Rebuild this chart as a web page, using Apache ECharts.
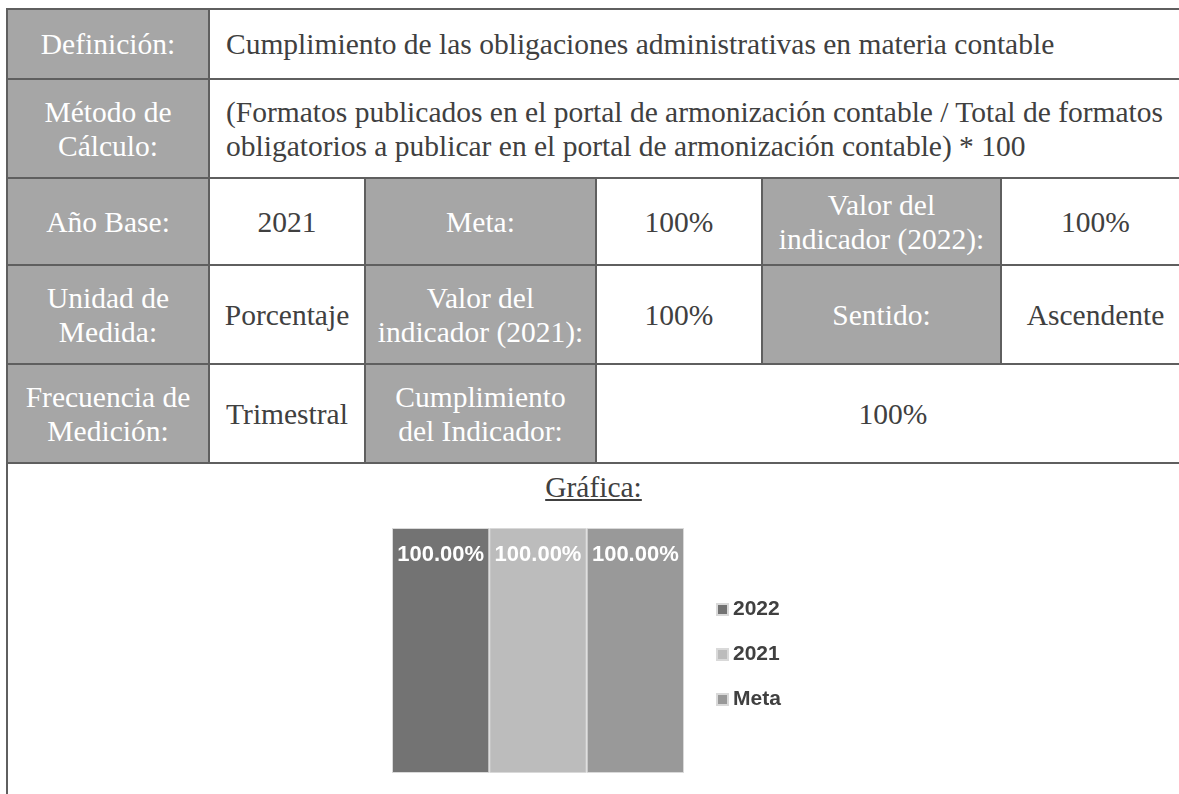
<!DOCTYPE html>
<html>
<head>
<meta charset="utf-8">
<script src="https://cdn.jsdelivr.net/npm/echarts@6/dist/echarts.min.js"></script>
<style>
  html, body { margin: 0; padding: 0; background: #ffffff; width: 1179px; height: 794px; overflow: hidden; }
  #wrap { position: relative; width: 1179px; height: 794px; }
  .cell { position: absolute; box-sizing: border-box; display: flex; align-items: center; justify-content: center;
          text-align: center; font-family: "Liberation Serif", serif; font-size: 29.5px; line-height: 34px; color: #404040;
          white-space: nowrap; }
  .hdr { background: #a6a6a6; color: #ffffff; }
  .left { justify-content: flex-start; text-align: left; padding-left: 17px; }
  .hl { position: absolute; background: #5f5f5f; }
  #title { position: absolute; left: 0; width: 1179px; top: 470px; line-height: 34px; text-align: center;
           font-family: "Liberation Serif", serif; font-size: 29.5px; color: #404040; }
  #title span { text-decoration: underline; margin-left: 8px; }
  #chart { position: absolute; left: 0; top: 0; width: 1179px; height: 794px; }
</style>
</head>
<body>
<div id="wrap"></div>
<script>
// ---- table content ----
const colX = [7, 209, 365, 596, 762, 1001, 1190];
const rowY = [9, 79, 178, 265, 364, 463];
const cellTexts = [
  // [row, colStart, colEnd, text, isHeader, leftAligned]
  [0, 0, 1, "Definición:", true, false],
  [0, 1, 6, "Cumplimiento de las obligaciones administrativas en materia contable", false, true],
  [1, 0, 1, "Método de<br>Cálculo:", true, false],
  [1, 1, 6, "(Formatos publicados en el portal de armonización contable / Total de formatos<br>obligatorios a publicar en el portal de armonización contable) * 100", false, true],
  [2, 0, 1, "Año Base:", true, false],
  [2, 1, 2, "2021", false, false],
  [2, 2, 3, "Meta:", true, false],
  [2, 3, 4, "100%", false, false],
  [2, 4, 5, "Valor del<br>indicador (2022):", true, false],
  [2, 5, 6, "100%", false, false],
  [3, 0, 1, "Unidad de<br>Medida:", true, false],
  [3, 1, 2, "Porcentaje", false, false],
  [3, 2, 3, "Valor del<br>indicador (2021):", true, false],
  [3, 3, 4, "100%", false, false],
  [3, 4, 5, "Sentido:", true, false],
  [3, 5, 6, "Ascendente", false, false],
  [4, 0, 1, "Frecuencia de<br>Medición:", true, false],
  [4, 1, 2, "Trimestral", false, false],
  [4, 2, 3, "Cumplimiento<br>del Indicador:", true, false],
  [4, 3, 6, "100%", false, false]
];
const chartTitle = "Gráfica:";

// ---- chart data ----
const categories = [""];
const seriesNames = ["2022", "2021", "Meta"];
const seriesValues = [[100], [100], [100]];
const seriesColors = ["#737373", "#bcbcbc", "#999999"];

const wrap = document.getElementById('wrap');
const LW = 2;
cellTexts.forEach(function (c) {
  const d = document.createElement('div');
  d.className = 'cell' + (c[4] ? ' hdr' : '') + (c[5] ? ' left' : '');
  d.style.left = colX[c[1]] + 'px';
  d.style.top = rowY[c[0]] + 'px';
  d.style.width = (colX[c[2]] - colX[c[1]]) + 'px';
  d.style.height = (rowY[c[0] + 1] - rowY[c[0]]) + 'px';
  d.innerHTML = c[3];
  wrap.appendChild(d);
});
function line(x, y, w, h) {
  const l = document.createElement('div');
  l.className = 'hl';
  l.style.left = x + 'px'; l.style.top = y + 'px'; l.style.width = w + 'px'; l.style.height = h + 'px';
  wrap.appendChild(l);
}
rowY.forEach(function (y) { line(colX[0] - 1, y - 1, 1200, LW); });
line(colX[0] - 1, rowY[0] - 1, LW, 794);
cellTexts.forEach(function (c) {
  if (c[1] > 0) line(colX[c[1]] - 1, rowY[c[0]] - 1, LW, rowY[c[0] + 1] - rowY[c[0]] + 1);
});
const t = document.createElement('div');
t.id = 'title';
t.innerHTML = '<span>' + chartTitle + '</span>';
wrap.appendChild(t);

const cdiv = document.createElement('div');
cdiv.id = 'chart';
wrap.appendChild(cdiv);

const chart = echarts.init(cdiv, null, { renderer: 'canvas' });
chart.setOption({
  animation: false,
  grid: { left: 392, top: 528, width: 292, height: 245 },
  legend: {
    orient: 'vertical', left: 711, top: 594, itemWidth: 11, itemHeight: 11, itemGap: 24,
    icon: 'rect',
    textStyle: { fontFamily: 'Liberation Sans', fontWeight: 'bold', fontSize: 21, color: '#404040' },
    data: seriesNames
  },
  xAxis: { type: 'category', data: categories, show: false },
  yAxis: { type: 'value', min: 0, max: 100, show: false },
  series: seriesNames.map(function (n, i) {
    return {
      name: n, type: 'bar', data: seriesValues[i], barGap: '0%', barCategoryGap: '0%',
      itemStyle: { color: seriesColors[i], borderColor: '#d9d9d9', borderWidth: 1 },
      label: {
        show: true, position: 'insideTop', distance: 16,
        formatter: function (p) { return p.value.toFixed(2) + '%'; },
        color: '#ffffff', fontFamily: 'Liberation Sans', fontWeight: 'bold', fontSize: 22
      }
    };
  })
});
</script>
</body>
</html>
